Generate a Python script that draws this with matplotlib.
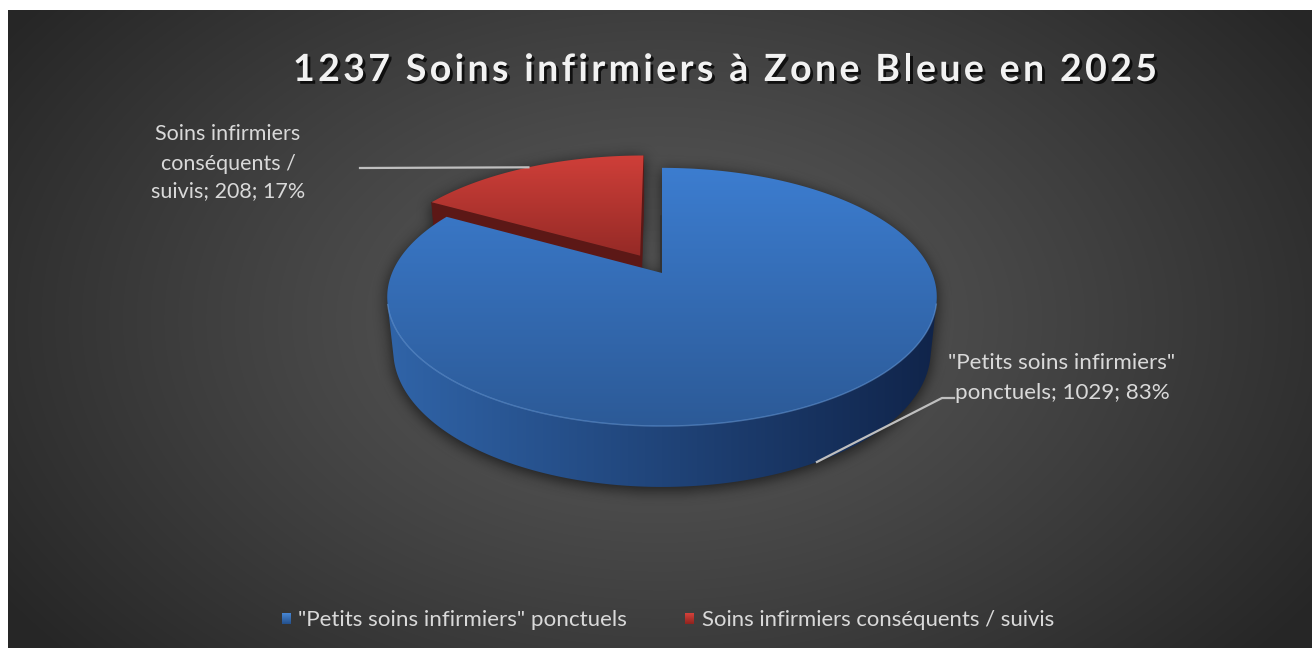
import numpy as np
import matplotlib
matplotlib.use("Agg")
import matplotlib.pyplot as plt
from matplotlib.patches import Polygon
from matplotlib.path import Path
from matplotlib.colors import to_rgb
from matplotlib import font_manager
from matplotlib.ft2font import FT2Font
import matplotlib.patheffects as pe

# ---------------- data ----------------
title = "1237 Soins infirmiers à Zone Bleue en 2025"
categories = ['"Petits soins infirmiers" ponctuels',
              'Soins infirmiers conséquents / suivis']
values = [1029, 208]
percents = [83, 17]
label_lines = [['"Petits soins infirmiers"', 'ponctuels; 1029; 83%'],
               ['Soins infirmiers', 'conséquents /', 'suivis; 208; 17%']]
explode = [0.0, 0.165]

# ---------------- style ----------------
top_colors = [("#3c7dd0", "#2c5a97"), ("#cf3f39", "#952a26")]
side_colors = [("#3064a8", "#10244a"), ("#5c1816", "#3c0f0e")]
legend_colors = [("#4b8cdb", "#24508c"), ("#dc453e", "#8e231e")]
text_color = "#d9d9d9"
FONT = "Lato"

W, H = 1314, 648
fig = plt.figure(figsize=(W / 100, H / 100), dpi=100)
fig.patch.set_facecolor("white")
ax = fig.add_axes([0, 0, 1, 1])
ax.set_xlim(0, W)
ax.set_ylim(H, 0)
ax.set_autoscale_on(False)
ax.axis("off")

# ---------------- background ----------------
bx0, bx1, by0, by1 = 8, 1312, 10, 648
gx = np.arange(bx0, bx1) + 0.5
gy = np.arange(by0, by1) + 0.5
GX, GY = np.meshgrid(gx, gy)
rr = np.clip(np.sqrt(((GX - 660) / 790) ** 2 + ((GY - 320) / 520) ** 2), 0, 1)
inner = np.array([0x5b] * 3) / 255
outer = np.array([0x26] * 3) / 255
bg = inner + (outer - inner) * (rr[..., None] ** 1.15)
ax.imshow(bg, extent=(bx0, bx1, by1, by0), origin="upper", aspect="auto",
          zorder=0, interpolation="bilinear")

# ---------------- 3D projection ----------------
cx, cy = 662.0, 273.0
A = 270.0
sin_t = 0.4617
cos_t = np.sqrt(1 - sin_t ** 2)
Dcam = cos_t / 0.1856
F = A * Dcam
hgt = 0.2266


def proj(X, Z, Y=0.0):
    X = np.asarray(X, float)
    Z = np.asarray(Z, float)
    depth = Dcam + Z * cos_t - Y * sin_t
    up = Y * cos_t + Z * sin_t
    return cx + F * X / depth, cy - F * up / depth


def pts(X, Z, Y=0.0):
    sx, sy = proj(X, Z, Y)
    return np.column_stack([np.atleast_1d(sx), np.atleast_1d(sy)])


def grad_fill(xy, c0, c1, direction, z):
    poly = Polygon(xy, closed=True, facecolor="none", edgecolor="none")
    ax.add_patch(poly)
    x0, x1 = xy[:, 0].min(), xy[:, 0].max()
    y0, y1 = xy[:, 1].min(), xy[:, 1].max()
    t = np.linspace(0, 1, 256)
    a0, a1 = np.array(to_rgb(c0)), np.array(to_rgb(c1))
    col = a0[None, :] * (1 - t[:, None]) + a1[None, :] * t[:, None]
    arr = col[:, None, :] if direction == "v" else col[None, :, :]
    im = ax.imshow(arr, extent=(x0, x1 + 0.01, y1 + 0.01, y0), origin="upper",
                   aspect="auto", interpolation="bilinear", zorder=z)
    im.set_clip_path(poly)
    return poly


total = float(sum(values))
bounds = np.concatenate([[0], np.cumsum(values)]) / total * 2 * np.pi
slices = []
for i in range(len(values)):
    p0, p1 = bounds[i], bounds[i + 1]
    pm = 0.5 * (p0 + p1)
    slices.append(dict(i=i, p0=p0, p1=p1, pm=pm,
                       ox=explode[i] * np.sin(pm), oz=explode[i] * np.cos(pm)))
order = sorted(range(len(values)), key=lambda k: -np.cos(slices[k]["pm"]))

camZ = -Dcam * cos_t
faces = []
for k in order:
    s = slices[k]
    ox, oz = s["ox"], s["oz"]
    for pe_ang, n in ((s["p0"], (-np.cos(s["p0"]), np.sin(s["p0"]))),
                      (s["p1"], (np.cos(s["p1"]), -np.sin(s["p1"])))):
        mx, mz = ox + 0.5 * np.sin(pe_ang), oz + 0.5 * np.cos(pe_ang)
        dot = n[0] * (0 - mx) + n[1] * (camZ - mz)
        if dot > -1e-9:
            Rx, Rz = ox + np.sin(pe_ang), oz + np.cos(pe_ang)
            quad = np.vstack([pts(ox, oz), pts(Rx, Rz), pts(Rx, Rz, -hgt), pts(ox, oz, -hgt)])
            faces.append(("radial", k, quad, dot))
    ph = np.linspace(s["p0"], s["p1"], 800)
    vis = -1 - ox * np.sin(ph) - (Dcam * cos_t + oz) * np.cos(ph) > 0
    idx = np.where(vis)[0]
    if idx.size:
        runs = np.split(idx, np.where(np.diff(idx) > 1)[0] + 1)
        for run in runs:
            php = ph[run]
            X, Z = ox + np.sin(php), oz + np.cos(php)
            topa = pts(X, Z)
            bota = pts(X, Z, -hgt)
            faces.append(("side", k, np.vstack([topa, bota[::-1]]), topa))
    ph = np.linspace(s["p0"], s["p1"], 800)
    X, Z = ox + np.sin(ph), oz + np.cos(ph)
    faces.append(("top", k, np.vstack([pts(ox, oz), pts(X, Z)]), None))

# ---------------- soft shadow ----------------
step = 2
sgx = np.arange(0, W, step) + step / 2
sgy = np.arange(0, H, step) + step / 2
SX, SY = np.meshgrid(sgx, sgy)
P = np.column_stack([SX.ravel(), SY.ravel() - 3])
mask = np.zeros(P.shape[0], bool)
for kind, k, poly, extra in faces:
    mask |= Path(poly).contains_points(P)
mask = mask.reshape(SX.shape).astype(float)


def box_blur(a, r):
    for axis in (0, 1):
        pw = [(0, 0), (0, 0)]
        pw[axis] = (r + 1, r)
        c = np.cumsum(np.pad(a, pw, mode="edge"), axis=axis)
        if axis == 0:
            a = (c[2 * r + 1:] - c[:-2 * r - 1]) / (2 * r + 1)
        else:
            a = (c[:, 2 * r + 1:] - c[:, :-2 * r - 1]) / (2 * r + 1)
    return a


for _ in range(3):
    mask = box_blur(mask, 3)
shadow = np.zeros(mask.shape + (4,))
shadow[..., 3] = np.clip(mask * 0.65, 0, 1)
ax.imshow(shadow, extent=(0, W, H, 0), origin="upper", aspect="auto",
          zorder=1, interpolation="bilinear")

# ---------------- draw pie faces ----------------
z = 2
rim_lines = []
for kind, k, poly, extra in faces:
    if kind == "radial":
        if extra < 1e-3:
            ax.plot([poly[3, 0], poly[2, 0]], [poly[3, 1], poly[2, 1]], color="#333333",
                    lw=3.5, alpha=0.9, zorder=z, solid_capstyle="butt")
            ax.plot([poly[2, 0], poly[0, 0]], [poly[2, 1], poly[0, 1]], color="#333333",
                    lw=3.5, alpha=0.9, zorder=z, solid_capstyle="butt")
        else:
            c = side_colors[k][0]
            ax.add_patch(Polygon(poly, closed=True, facecolor=c, edgecolor=c,
                                 lw=0.5, zorder=z))
    elif kind == "side":
        grad_fill(poly, side_colors[k][0], side_colors[k][1], "h", z)
        rim_lines.append(extra)
    else:
        grad_fill(poly, top_colors[k][0], top_colors[k][1], "v", z)
    z += 1
for rl in rim_lines:
    ax.plot(rl[:, 0], rl[:, 1], color="#6fa4e6", lw=1.0, alpha=0.5, zorder=z + 1)

# ---------------- data labels & leader lines ----------------
renderer = fig.canvas.get_renderer()


def fit(texts, widest, target):
    for _ in range(3):
        w = widest.get_window_extent(renderer).width
        f = widest.get_fontsize() * target / w
        for t in texts:
            t.set_fontsize(f)


label_pos = {1: (228, [140, 170, 197], 154), 0: (1062, [369, 399], 227)}
for k in (0, 1):
    xc, ys, target = label_pos[k]
    ts = [ax.text(xc, y, line, ha="center", va="baseline", color=text_color,
                  family=FONT, fontsize=16, zorder=50)
          for line, y in zip(label_lines[k], ys)]
    widest = max(ts, key=lambda t: t.get_window_extent(renderer).width)
    fit(ts, widest, target)

s1 = slices[1]
ax1, ay1 = proj(s1["ox"] + np.sin(s1["pm"]), s1["oz"] + np.cos(s1["pm"]))
ax.plot([360, ax1], [168, ay1], color="#bfbfbf", lw=1.6, zorder=49)
s0 = slices[0]
ax0, ay0 = proj(s0["ox"] + np.sin(s0["pm"]), s0["oz"] + np.cos(s0["pm"]), -hgt)
ax.plot([ax0 - 3, 942, 954], [ay0 + 1, 398, 398], color="#bfbfbf", lw=1.6, zorder=49)

# ---------------- title (letter-spaced) ----------------
title_size = 27.0
title_left, title_right, title_base = 293, 1157, 81
tprops = font_manager.FontProperties(family=FONT, weight="bold")
ft = FT2Font(font_manager.findfont(tprops))
ft.set_size(title_size, 100)
adv = []
for ch in title:
    g = ft.load_char(ord(ch))
    adv.append(g.linearHoriAdvance / 65536.0)
adv = np.array(adv)
spacing = (title_right - title_left - adv.sum()) / (len(title) - 1)
xpos = title_left + np.concatenate([[0], np.cumsum(adv[:-1] + spacing)])
for ch, xp in zip(title, xpos):
    if ch == " ":
        continue
    ax.text(xp, title_base, ch, ha="left", va="baseline", color="#f2f2f2",
            family=FONT, fontweight="bold", fontsize=title_size, zorder=60,
            path_effects=[pe.withSimplePatchShadow(offset=(2, -2), shadow_rgbFace="black",
                                                    alpha=0.75)])

# ---------------- legend ----------------
leg_x = [(286, 298), (689, 702)]
leg_w = [328, 352]
for k in range(2):
    mx, tx = leg_x[k]
    sq = np.array([[mx - 4.5, 613], [mx + 4.5, 613], [mx + 4.5, 624], [mx - 4.5, 624]])
    grad_fill(sq, legend_colors[k][0], legend_colors[k][1], "v", 40)
    t = ax.text(tx, 626, categories[k], ha="left", va="baseline", color=text_color,
                family=FONT, fontsize=16, zorder=50)
    fit([t], t, leg_w[k])

fig.savefig("out.png", dpi=100, facecolor=fig.get_facecolor())
